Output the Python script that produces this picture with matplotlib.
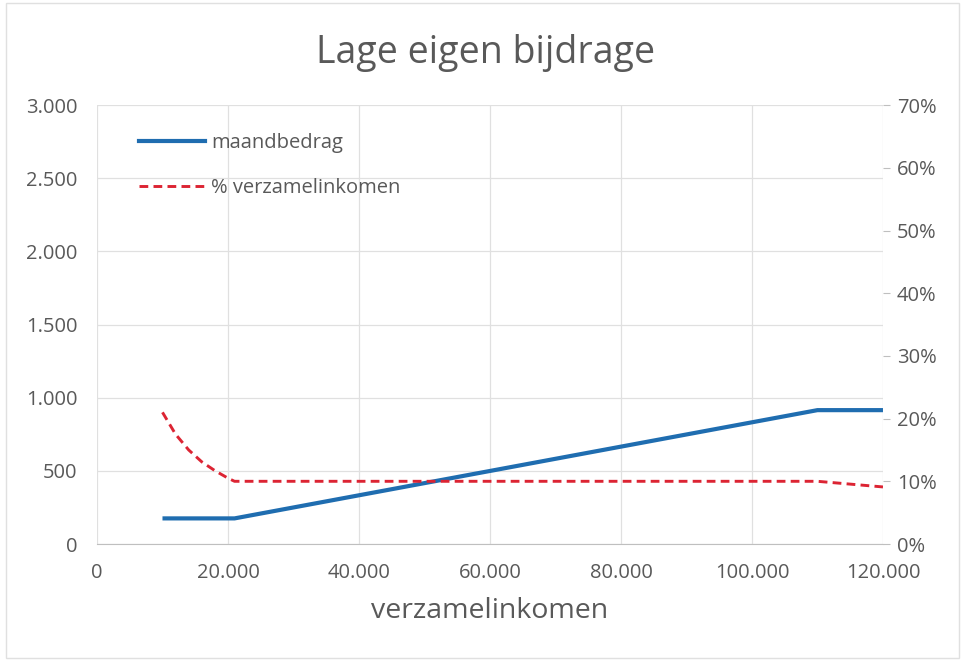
import matplotlib.pyplot as plt
from matplotlib.ticker import FuncFormatter, MultipleLocator
from matplotlib.lines import Line2D
import matplotlib.patches as patches

plt.rcParams['font.family'] = ['Open Sans', 'DejaVu Sans']

# data
inkomen_bedrag = [10000, 21000, 110000, 120000]
maandbedrag = [175, 175, 915, 915]

inkomen_pct = [10000, 12000, 14000, 16000, 18000, 20000, 21000, 110000, 120000]
pct_inkomen = [21.0, 17.5, 15.0, 13.1, 11.7, 10.5, 10.0, 10.0, 9.1]

blue = '#1f6db0'
red = '#dc2433'
grid = '#e0e0e0'
text_col = '#595959'


def nl_thousands(v, pos):
    return f"{int(round(v)):,}".replace(",", ".")


fig = plt.figure(figsize=(9.65, 6.61), dpi=100)
ax = fig.add_axes([0.1005, 0.177, 0.8145, 0.664])
ax2 = ax.twinx()

ax.plot(inkomen_bedrag, maandbedrag, color=blue, lw=3, solid_capstyle='butt', zorder=3)
ax2.plot(inkomen_pct, pct_inkomen, color=red, lw=2.1, ls=(0, (3, 1.8)), zorder=3)

ax.set_xlim(0, 120000)
ax.set_ylim(0, 3000)
ax2.set_ylim(0, 70)
ax.xaxis.set_major_locator(MultipleLocator(20000))
ax.yaxis.set_major_locator(MultipleLocator(500))
ax2.yaxis.set_major_locator(MultipleLocator(10))
ax.xaxis.set_major_formatter(FuncFormatter(nl_thousands))
ax.yaxis.set_major_formatter(FuncFormatter(nl_thousands))
ax2.yaxis.set_major_formatter(FuncFormatter(lambda v, p: f"{int(v)}%"))

ax.grid(True, color=grid, lw=0.9)
ax.set_axisbelow(True)
for a in (ax, ax2):
    for s in ('top', 'left', 'right'):
        a.spines[s].set_visible(False)
    a.spines['bottom'].set_color('#bfbfbf')
ax2.spines['bottom'].set_visible(False)

ax.tick_params(axis='y', length=0, pad=14, labelsize=14.5, labelcolor=text_col)
ax.tick_params(axis='x', length=0, pad=14, labelsize=14.5, labelcolor=text_col)
ax2.tick_params(axis='y', length=5, color='#bfbfbf', pad=5, labelsize=14.5, labelcolor=text_col)

ax.set_xlabel('verzamelinkomen', fontsize=20.5, color=text_col, labelpad=10)
fig.text(0.503, 0.92, 'Lage eigen bijdrage', ha='center', va='center', fontsize=27, color=text_col)

handles = [Line2D([], [], color=blue, lw=3),
           Line2D([], [], color=red, lw=2.1, ls=(0, (3, 1.8)))]
ax.legend(handles, ['maandbedrag', '% verzamelinkomen'], loc='upper left',
          bbox_to_anchor=(0.03, 0.978), frameon=False, handlelength=3.3,
          handletextpad=0.3, labelspacing=1.25, fontsize=14.5, labelcolor=text_col)

fig.patches.append(patches.Rectangle((0.006, 0.005), 0.988, 0.99, transform=fig.transFigure,
                                     fill=False, edgecolor=grid, lw=1))

fig.savefig('out.png', dpi=100)
